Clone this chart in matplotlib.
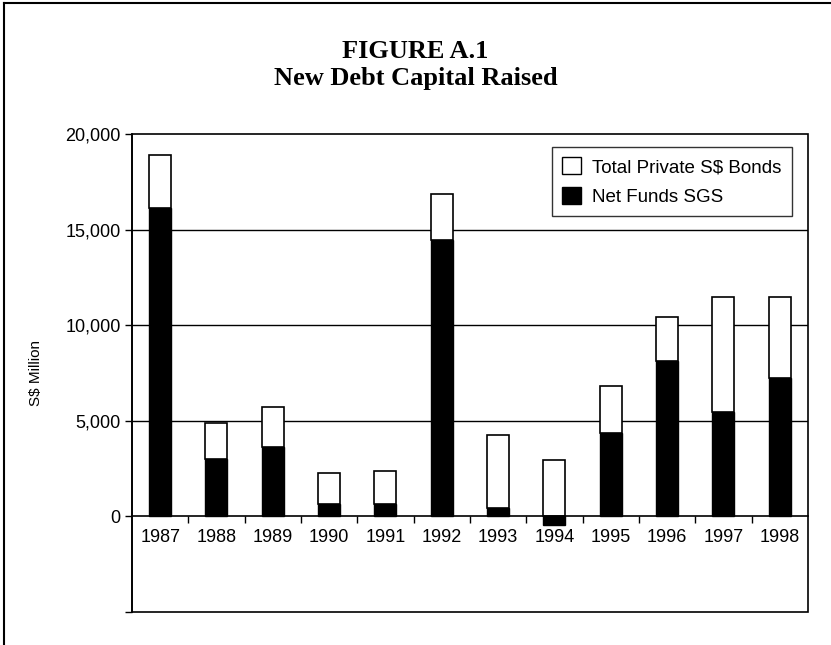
import matplotlib
matplotlib.use("Agg")
import matplotlib.pyplot as plt
from matplotlib.lines import Line2D
from matplotlib.patches import Rectangle, Patch
from matplotlib.ticker import FuncFormatter

years = ["1987", "1988", "1989", "1990", "1991", "1992",
         "1993", "1994", "1995", "1996", "1997", "1998"]
# S$ million
net_funds_sgs = [16150, 3000, 3630, 650, 650, 14470,
                 470, -430, 4370, 8150, 5470, 7250]
total_private_bonds = [18900, 4900, 5740, 2300, 2400, 16880,
                       4250, 2950, 6850, 10470, 11490, 11490]

plt.rcParams["font.family"] = ["Liberation Sans", "DejaVu Sans"]

fig = plt.figure(figsize=(8.31, 6.45), dpi=100)
ax = fig.add_axes([0.1588, 0.0512, 0.9723 - 0.1588, 0.7915 - 0.0512])

x = list(range(len(years)))
w = 0.39

# white part sits on top of the SGS bar (starts at zero when SGS is negative)
private_part = [t - max(s, 0) for t, s in zip(total_private_bonds, net_funds_sgs)]
private_base = [max(s, 0) for s in net_funds_sgs]

ax.bar(x, net_funds_sgs, width=w, color="black", edgecolor="black",
       linewidth=1, zorder=3)
ax.bar(x, private_part, bottom=private_base, width=w, color="white",
       edgecolor="black", linewidth=1.2, zorder=3)

ax.set_xlim(-0.5, len(years) - 0.5)
ax.set_ylim(-5000, 20000)

ax.set_yticks([-5000, 0, 5000, 10000, 15000, 20000])
ax.yaxis.set_major_formatter(FuncFormatter(lambda v, p: "" if v < 0 else f"{v:,.0f}"))
ax.tick_params(axis="y", direction="out", length=5, width=1, labelsize=13, pad=3)

for v in [5000, 10000, 15000]:
    ax.axhline(v, color="black", linewidth=1, zorder=1)

# category axis along zero with ticks between years
ax.spines["bottom"].set_position(("data", 0))
ax.set_xticks(x)
ax.set_xticklabels(years)
ax.set_xticks([i + 0.5 for i in x[:-1]], minor=True)
ax.tick_params(axis="x", which="major", length=0, labelsize=13, pad=9)
ax.tick_params(axis="x", which="minor", direction="out", length=5, width=1)
for sp in ax.spines.values():
    sp.set_linewidth(1.2)
    sp.set_zorder(4)
ax.spines["top"].set_visible(False)
ax.spines["right"].set_visible(False)

# plot area frame
ax.add_patch(Rectangle((0, 0), 1, 1, transform=ax.transAxes, fill=False,
                       edgecolor="black", linewidth=1.2, zorder=4, clip_on=False))

ax.set_ylabel("S$ Million", fontsize=11, labelpad=16)

handles = [Patch(facecolor="white", edgecolor="black", linewidth=1),
           Patch(facecolor="black", edgecolor="black", linewidth=1)]
leg = ax.legend(handles, ["Total Private S$ Bonds", "Net Funds SGS"],
                loc="upper right", bbox_to_anchor=(0.976, 0.974),
                fontsize=13.5, frameon=True, fancybox=False, edgecolor="black",
                handlelength=1.0, handleheight=1.0, handletextpad=0.6,
                borderpad=0.55, borderaxespad=0, labelspacing=0.6)
leg.get_frame().set_linewidth(1)

fig.text(0.5, 1 - 51 / 645, "FIGURE A.1", ha="center", va="center",
         family=["Liberation Serif"], fontweight="bold", fontsize=19)
fig.text(0.5, 1 - 79 / 645, "New Debt Capital Raised", ha="center", va="center",
         family=["Liberation Serif"], fontweight="bold", fontsize=19)

# outer border of the figure panel
fig.add_artist(Line2D([0.0054, 1.0], [0.9953, 0.9953], color="black", linewidth=1.5))
fig.add_artist(Line2D([0.0054, 0.0054], [0.0, 0.9953], color="black", linewidth=1.5))

fig.savefig("out.png", dpi=100)
